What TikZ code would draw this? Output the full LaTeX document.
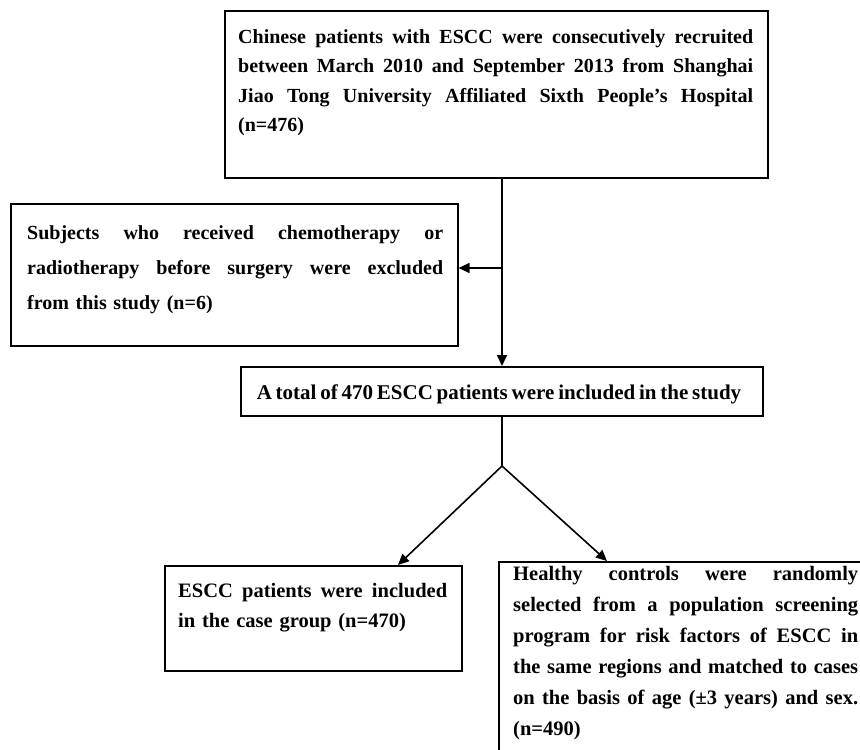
\documentclass[tikz,border=0pt]{standalone}
\usepackage{fontspec}
\setmainfont{Liberation Serif}
\usetikzlibrary{arrows.meta}
\newcommand{\jl}[1]{\leavevmode\hbox to \hsize{\spaceskip=0.25em plus 1fil\xspaceskip=\spaceskip #1}}
\begin{document}
\begin{tikzpicture}[x=1pt,y=-1pt,
  box/.style={draw=black, line width=1.6pt, inner sep=0pt, anchor=north west},
  txt/.style={inner sep=0pt, anchor=base west, align=left, font=\bfseries},
  arr/.style={line width=1.6pt, -{Triangle[length=11pt,width=10pt]}},
  conn/.style={line width=1.6pt}]
\useasboundingbox (0,0) rectangle (860,750);
\clip (0,0) rectangle (860,750);
\fill[white] (0,0) rectangle (860,750);

% boxes
\node[box, minimum width=543pt, minimum height=167pt] (topbox) at (224,10) {};
\node[box, minimum width=447pt, minimum height=142pt] (exclbox) at (10,203) {};
\node[box, anchor=north, minimum width=522pt, minimum height=49pt] (midbox) at (502,366) {};
\node[box, minimum width=297pt, minimum height=105pt] (casebox) at (164,565) {};
\node[box, minimum width=380pt, minimum height=210pt] (ctrlbox) at (498,561) {};

% texts
\node[txt, text width=515pt, font=\bfseries\fontsize{20}{29.5}\selectfont] (toptext) at (238,43) {%
\jl{Chinese patients with ESCC were consecutively recruited}\\
\jl{between March 2010 and September 2013 from Shanghai}\\
\jl{Jiao Tong University Affiliated Sixth People’s Hospital}\\
(n=476)};

\node[txt, text width=416pt, font=\bfseries\fontsize{20}{35}\selectfont] (excltext) at (27,239) {%
\jl{Subjects who received chemotherapy or}\\
\jl{radiotherapy before surgery were excluded}\\
from this study (n=6)};

\node[inner sep=0pt, anchor=base, font=\bfseries\fontsize{21}{25}\selectfont] (midtext) at (499,399) {\spaceskip=3.8pt A total of 470 ESCC patients were included in the study};

\node[txt, text width=269pt, font=\bfseries\fontsize{20.5}{30}\selectfont] (casetext) at (178,597) {%
\jl{ESCC patients were included}\\
in the case group (n=470)};

\node[txt, text width=345pt, font=\bfseries\fontsize{20.5}{31}\selectfont] (ctrltext) at (513,580) {%
\jl{Healthy controls were randomly}\\
\jl{selected from a population screening}\\
\jl{program for risk factors of ESCC in}\\
\jl{the same regions and matched to cases}\\
\jl{on the basis of age (±3 years) and sex.}\\
(n=490)};

% connectors
\coordinate (j1) at (502,268);
\coordinate (split) at (502,466);
\coordinate (tipL) at (398,565);
\coordinate (tipR) at (607,561);
\draw[arr] (topbox.south -| midbox.north) -- (midbox.north);
\draw[arr] (j1) -- (j1 -| exclbox.east);
\draw[conn] (midbox.south) -- (split);
\draw[arr] (split) -- (tipL);
\draw[arr] (split) -- (tipR);
\end{tikzpicture}
\end{document}
